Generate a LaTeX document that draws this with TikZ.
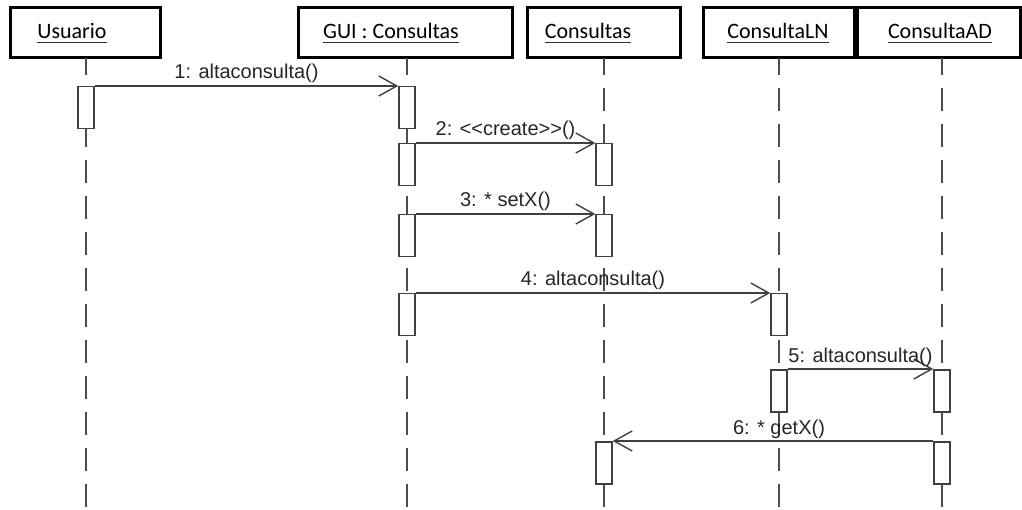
\documentclass[tikz,border=0pt]{standalone}
\usepackage{fontspec}
\setmainfont{Liberation Sans}
\newfontfamily\headfont{Carlito}
\usetikzlibrary{arrows.meta}

\begin{document}
\begin{tikzpicture}[x=1pt,y=-1pt,
  headbox/.style={draw=black, line width=3pt, fill=white, inner sep=0pt, minimum height=50pt},
  headtitle/.style={font=\headfont\fontsize{22}{26}\selectfont, inner sep=0pt, anchor=base},
  titleline/.style={draw=black!80, line width=1.5pt},
  lifeline/.style={draw=black!70, line width=1.5pt, dash pattern=on 23pt off 13pt, dash phase=6pt},
  actbar/.style={draw=black!75, line width=1.5pt, fill=white, minimum width=16pt, minimum height=42pt, inner sep=0pt, anchor=north},
  msg/.style={draw=black!75, line width=1.4pt, -{Straight Barb[length=18pt,width=20pt]}},
  msglabel/.style={font=\fontsize{20}{24}\selectfont, text=black!85, inner sep=0pt, anchor=base, yshift=7pt}
]
\useasboundingbox (0,0) rectangle (1022,510);

% object heads
\node[headbox, minimum width=150pt] (hU) at (85,33) {};
\node[headbox, minimum width=214pt] (hG) at (405,33) {};
\node[headbox, minimum width=153pt] (hC) at (603.5,33) {};
\node[headbox, minimum width=151pt] (hL) at (778.5,33) {};
\node[headbox, minimum width=163pt] (hA) at (938.5,33) {};

\node[headtitle] (tU) at (72,38.5) {Usuario};
\node[headtitle] (tG) at (391,38.5) {GUI : Consultas};
\node[headtitle] (tC) at (588,38.5) {Consultas};
\node[headtitle] (tL) at (778,38.5) {ConsultaLN};
\node[headtitle] (tA) at (940,38.5) {ConsultaAD};
\foreach \t in {tU,tG,tC,tL,tA}
  \draw[titleline] ([yshift=-4pt]\t.base west) -- ([yshift=-4pt]\t.base east);

% lifelines
\foreach \n/\x in {U/86,G/407,C/604,L/779,A/942}{
  \coordinate (top\n) at (\x,58);
  \coordinate (bot\n) at (\x,512);
  \draw[lifeline] (top\n) -- (bot\n);
}

% activation bars
\node[actbar] (bU1) at (86,86) {};
\node[actbar] (bG1) at (407,86) {};
\node[actbar] (bG2) at (407,143) {};
\node[actbar] (bC2) at (604,143) {};
\node[actbar] (bG3) at (407,214) {};
\node[actbar] (bC3) at (604,214) {};
\node[actbar] (bG4) at (407,293) {};
\node[actbar] (bL4) at (779,293) {};
\node[actbar] (bL5) at (779,369) {};
\node[actbar] (bA5) at (942,369) {};
\node[actbar] (bC6) at (604,441) {};
\node[actbar] (bA6) at (942,441) {};

% messages
\draw[msg] (bU1.north east) -- node[msglabel] {1: altaconsulta()} (bG1.north west);
\draw[msg] (bG2.north east) -- node[msglabel] {2: <{}<create>{}>()} (bC2.north west);
\draw[msg] (bG3.north east) -- node[msglabel] {3: * setX()} (bC3.north west);
\draw[msg] (bG4.north east) -- node[msglabel] {4: altaconsulta()} (bL4.north west);
\draw[msg] (bL5.north east) -- node[msglabel] {5: altaconsulta()} (bA5.north west);
\draw[msg] (bA6.north west) -- node[msglabel, xshift=6pt] {6: * getX()} (bC6.north east);
\end{tikzpicture}
\end{document}
